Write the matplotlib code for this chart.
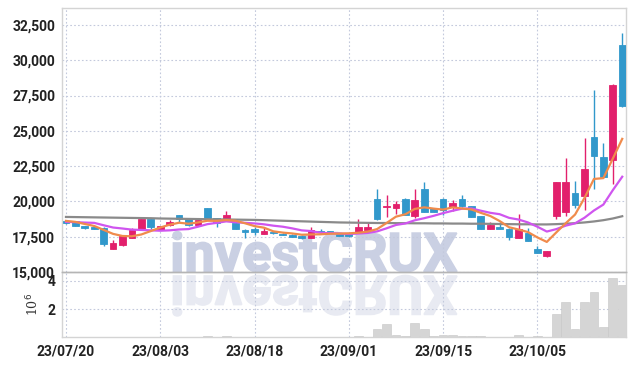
import matplotlib
matplotlib.use("Agg")
import matplotlib.pyplot as plt
import numpy as np
from matplotlib.textpath import TextPath
from matplotlib.patches import PathPatch
from matplotlib.font_manager import FontProperties
from matplotlib.transforms import Affine2D

# daily candles, 60 trading days
tick_pos = [0, 10, 20, 30, 40, 50]
tick_labels = ["23/07/20", "23/08/03", "23/08/18", "23/09/01", "23/09/15", "23/10/05"]

opens = [18620, 18600, 18240, 18190, 18150, 16660, 16920, 17440, 18080, 18740,
         18010, 18360, 19020, 18740, 18310, 19500, 18830, 18670, 18500, 17960,
         18050, 17700, 17840, 17700, 17630, 17560, 17420, 17910, 17880, 17700,
         17700, 17820, 17960, 20200, 19620, 19540, 20200, 18970, 20910, 19500,
         20200, 19610, 20200, 19660, 18950, 18080, 18170, 18080, 17440, 17770,
         16660, 16100, 18940, 19220, 20590, 20350, 24530, 23120, 22900, 31090]
closes = [18440, 18290, 18120, 18080, 16990, 17020, 17560, 18010, 18740, 18190,
          18240, 18550, 18740, 18360, 18670, 18830, 18500, 19050, 18080, 17800,
          17840, 17910, 17770, 17630, 17490, 17420, 18010, 17820, 17800, 17560,
          17520, 18220, 18190, 18720, 19680, 19800, 19070, 20080, 19260, 19260,
          19420, 19890, 19660, 18900, 18080, 18310, 18080, 17490, 18080, 17200,
          16380, 16500, 21370, 21370, 19720, 22290, 23190, 21700, 28260, 26730]
highs = [18680, 18620, 18280, 18230, 18180, 17250, 17650, 18100, 18760, 18760,
         18290, 18680, 19040, 18780, 18700, 19520, 18850, 19300, 18520, 18080,
         18170, 18150, 17900, 17740, 17660, 17600, 18200, 18060, 17920, 17730,
         17740, 18780, 18480, 20910, 20440, 20000, 20230, 20860, 21380, 19530,
         20230, 20110, 20430, 19690, 18980, 18540, 18570, 18100, 19140, 18120,
         16830, 16520, 21400, 23070, 21420, 24480, 27860, 24130, 28300, 31960]
lows = [18400, 18260, 18050, 18050, 16830, 16640, 16860, 17420, 18050, 18080,
        17960, 18240, 18570, 18260, 18290, 18810, 18220, 18650, 18050, 17380,
        17610, 17680, 17720, 17600, 17470, 17370, 17400, 17790, 17780, 17540,
        17500, 17800, 17940, 18650, 18900, 19130, 19030, 18860, 19230, 19230,
        19060, 19290, 19620, 18870, 18050, 18060, 18060, 17300, 17420, 17170,
        16360, 16080, 18750, 18940, 19530, 19410, 20870, 21650, 21250, 26700]

ma5 = [18620, 18550, 18400, 18260, 17980, 17700, 17550, 17530, 17660, 17900,
       18150, 18350, 18490, 18420, 18510, 18630, 18620, 18680, 18630, 18450,
       18250, 18140, 17880, 17790, 17730, 17640, 17660, 17670, 17710, 17720,
       17740, 17780, 17860, 18040, 18470, 18920, 19090, 19470, 19580, 19490,
       19420, 19580, 19500, 19430, 19190, 18970, 18610, 18170, 18010, 17830,
       17450, 17130, 17800, 18450, 19070, 20250, 21590, 21650, 23030, 24430]
ma10 = [18550, 18530, 18500, 18480, 18310, 18150, 18080, 18000, 17980, 17950,
        17924, 17950, 18012, 18040, 18208, 18389, 18483, 18587, 18521, 18482,
        18442, 18378, 18281, 18208, 18090, 17949, 17900, 17777, 17749, 17725,
        17693, 17724, 17766, 17875, 18094, 18332, 18438, 18664, 18810, 18980,
        19170, 19337, 19484, 19502, 19342, 19193, 19094, 18835, 18717, 18511,
        18207, 17865, 18036, 18283, 18447, 18845, 19356, 19777, 20795, 21748]
ma_long = [18900, 18890, 18880, 18870, 18860, 18850, 18840, 18830, 18820, 18810,
           18790, 18780, 18770, 18760, 18750, 18740, 18730, 18720, 18710, 18700,
           18690, 18670, 18650, 18630, 18610, 18590, 18570, 18550, 18530, 18510,
           18500, 18490, 18480, 18470, 18470, 18460, 18460, 18450, 18450, 18440,
           18440, 18430, 18430, 18420, 18420, 18410, 18400, 18390, 18380, 18380,
           18370, 18370, 18390, 18420, 18460, 18510, 18580, 18670, 18790, 18950]

# volume in millions of shares
volume = [0.02, 0.02, 0.02, 0.02, 0.02, 0.02, 0.02, 0.02, 0.02, 0.02,
          0.02, 0.02, 0.02, 0.02, 0.02, 0.07, 0.02, 0.07, 0.02, 0.02,
          0.02, 0.02, 0.02, 0.02, 0.02, 0.02, 0.02, 0.02, 0.02, 0.02,
          0.02, 0.09, 0.03, 0.57, 0.93, 0.14, 0.08, 1.00, 0.56, 0.08,
          0.15, 0.15, 0.08, 0.07, 0.07, 0.02, 0.02, 0.02, 0.15, 0.02,
          0.08, 0.02, 1.63, 2.48, 0.56, 2.48, 3.18, 0.70, 4.18, 3.69]

UP = "#e2206c"
DOWN = "#3198cb"
GRID = "#c3c9dc"
SPINE = "#d4d4d4"
TXT = "#222222"

plt.rcParams["font.family"] = ["Roboto", "DejaVu Sans"]

W, H = 635, 366
fig = plt.figure(figsize=(W / 100, H / 100), dpi=100, facecolor="white")

L, R = 62 / W, 626 / W
ax = fig.add_axes([L, 1 - 272 / H, R - L, (272 - 8) / H])
axv = fig.add_axes([L, 1 - 337.3 / H, R - L, (337.3 - 272) / H], sharex=ax)
for a in (ax, axv):
    a.set_facecolor("none")

# watermark with mirrored reflection, drawn behind the axes
fp = FontProperties(family="Roboto", weight="bold")
tp = TextPath((0, 0), "investCRUX", size=54, prop=fp)
ext = tp.get_extents()
sx = 284 / ext.width
x0 = 315 - sx * (ext.x0 + ext.x1) / 2
fig.add_artist(PathPatch(tp, transform=Affine2D().scale(sx, 1).translate(x0, H - 271.5),
                         facecolor="#cad0e3", edgecolor="#cad0e3", linewidth=1.2, zorder=-5))
fig.add_artist(PathPatch(tp, transform=Affine2D().scale(sx, -1).translate(x0, H - 276),
                         facecolor="#e8eaf2", edgecolor="#e8eaf2", linewidth=1.2, zorder=-5))

x = np.arange(len(opens))
o = np.array(opens)
c = np.array(closes)
colors = [UP if cc >= oo else DOWN for oo, cc in zip(o, c)]
ax.vlines(x, lows, highs, colors=colors, linewidth=1.0, zorder=3)
ax.bar(x, np.maximum(np.abs(c - o), 40), bottom=np.minimum(o, c), width=0.72,
       color=colors, edgecolor=colors, linewidth=0.6, zorder=3)

ax.plot(x, ma_long, color="#8a8a8a", linewidth=1.6, zorder=4)
ax.plot(x, ma10, color="#cf55ef", linewidth=1.6, zorder=4)
ax.plot(x, ma5, color="#f08b4c", linewidth=1.6, zorder=4)

axv.bar(x, volume, width=0.92, color="#d5d5d5", edgecolor="#c6c6c6", linewidth=0.4, zorder=3)

ax.set_xlim(-0.42, 59.4)
ax.set_ylim(15000, 33700)
axv.set_ylim(0, 4.62)

ax.set_yticks(np.arange(15000, 32501, 2500))
ax.yaxis.set_major_formatter(matplotlib.ticker.FuncFormatter(lambda v, p: f"{int(v):,}"))
axv.set_yticks([2, 4])
axv.set_xticks(tick_pos)
axv.set_xticklabels(tick_labels)
ax.tick_params(axis="x", labelbottom=False)

for a in (ax, axv):
    a.grid(True, color=GRID, linestyle=(0, (1.5, 2)), linewidth=0.8, zorder=0)
    a.set_axisbelow(True)
    a.tick_params(length=0, labelsize=10, labelcolor=TXT, pad=5)
    for lab in a.get_xticklabels() + a.get_yticklabels():
        lab.set_fontweight("bold")
    for s in a.spines.values():
        s.set_color(SPINE)
        s.set_linewidth(1.0)
ax.spines["bottom"].set_color("#b5b5b5")
axv.spines["top"].set_color("#b5b5b5")

axv.set_ylabel("10$^6$", fontsize=9, color="#333333", labelpad=4, family="DejaVu Serif")

fig.savefig("out.png", dpi=100)
